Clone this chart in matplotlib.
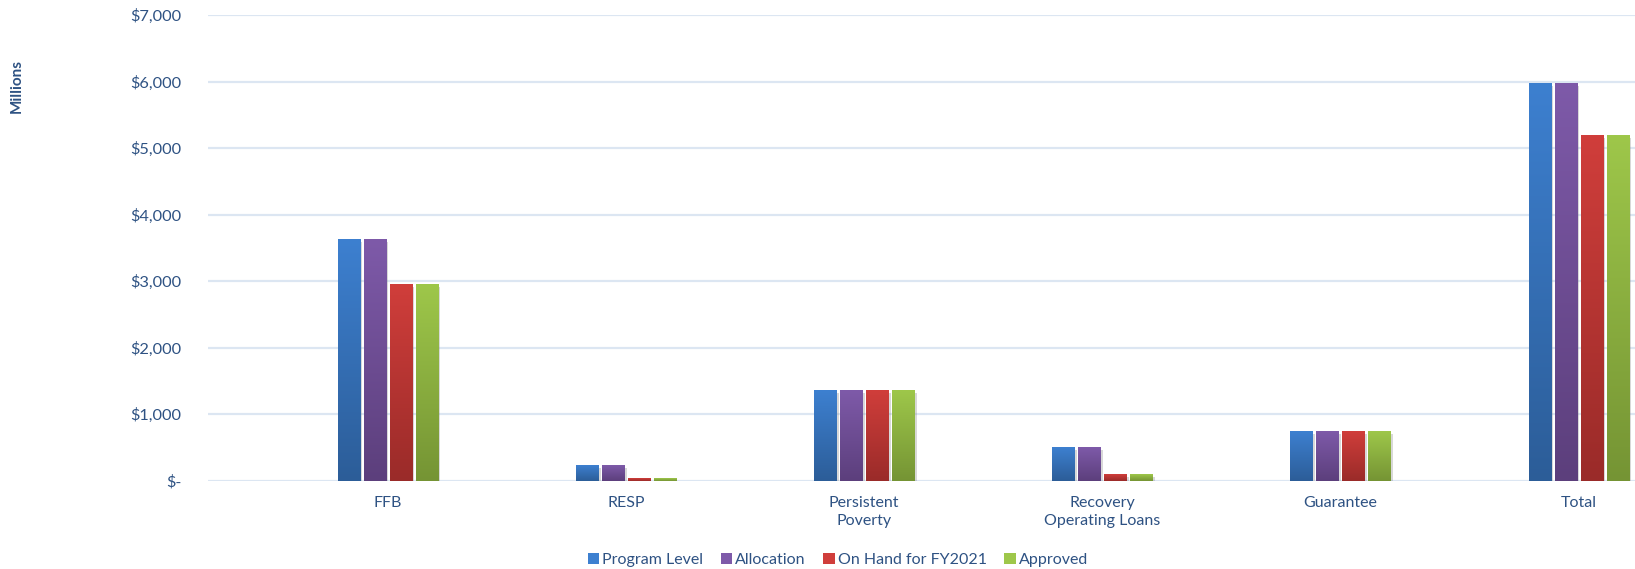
import numpy as np
import matplotlib.pyplot as plt
import matplotlib.patheffects as pe
from matplotlib.colors import LinearSegmentedColormap
from matplotlib.patches import Patch

categories = ["FFB", "RESP", "Persistent\nPoverty", "Recovery\nOperating Loans", "Guarantee", "Total"]
series = ["Program Level", "Allocation", "On Hand for FY2021", "Approved"]
program_level = [3636, 238, 1365, 505, 749, 5985]
allocation = [3636, 238, 1365, 505, 749, 5985]
on_hand = [2960, 40, 1365, 102, 749, 5200]
approved = [2960, 40, 1365, 102, 749, 5200]
yticks = [0, 1000, 2000, 3000, 4000, 5000, 6000, 7000]

# (top colour, bottom colour) for the gradient fill
colors = [("#3d80d0", "#2c5d98"),
          ("#7e5aa9", "#5c3f7c"),
          ("#d03e3b", "#9a2b29"),
          ("#9ec74a", "#759434")]
text_col = "#2e5283"


def main():
    plt.rcParams['font.family'] = ['Lato', 'DejaVu Sans']
    fig = plt.figure(figsize=(16.35, 5.69), dpi=100)
    ax = fig.add_axes([208 / 1635, 1 - 480.8 / 569, 1 - 208 / 1635, (480.8 - 15.3) / 569])

    x = np.arange(len(categories))
    pitch = 0.1092
    width = 0.0924
    data = [program_level, allocation, on_hand, approved]
    grad = np.linspace(0, 1, 256).reshape(-1, 1)

    for k, vals in enumerate(data):
        top, bottom = colors[k]
        cmap = LinearSegmentedColormap.from_list("g%d" % k, [bottom, top])
        bars = ax.bar(x + (k - 1.5) * pitch, vals, width, color=top, zorder=3,
                      path_effects=[pe.SimplePatchShadow(offset=(2, -2), shadow_rgbFace='gray', alpha=0.3),
                                    pe.Normal()])
        for b in bars:
            bx, by = b.get_x(), b.get_y()
            im = ax.imshow(grad, cmap=cmap, aspect='auto', origin='lower',
                           extent=[bx, bx + b.get_width(), by, by + b.get_height()], zorder=4)
            im.set_clip_path(b)

    ax.set_xlim(-0.754, 5.237)
    ax.set_ylim(0, 7000)
    ax.set_yticks(yticks)
    ax.set_yticklabels(["$-" if v == 0 else "${:,}".format(v) for v in yticks])
    ax.set_xticks(x)
    ax.set_xticklabels(categories, linespacing=1.4)
    ax.tick_params(axis='y', length=0, pad=19, labelsize=11.8, labelcolor=text_col)
    ax.tick_params(axis='x', length=0, pad=11, labelsize=11.5, labelcolor=text_col)
    ax.grid(axis='y', color='#dce6f2', lw=1.6, zorder=0)
    ax.set_axisbelow(True)
    for s in ax.spines.values():
        s.set_visible(False)

    fig.text(17 / 1635, 1 - 86 / 569, "Millions", rotation=90, ha='center', va='center',
             fontsize=11, fontweight='bold', color=text_col)

    handles = [Patch(facecolor=c[0], edgecolor='none') for c in colors]
    fig.legend(handles, series, loc='center', bbox_to_anchor=(838 / 1635, 1 - 560 / 569),
               ncol=4, frameon=False, fontsize=11.5, labelcolor=text_col,
               handlelength=0.7, handleheight=0.7, handletextpad=0.2, columnspacing=1.1)

    fig.savefig("out.png", dpi=100)


if __name__ == "__main__":
    main()
